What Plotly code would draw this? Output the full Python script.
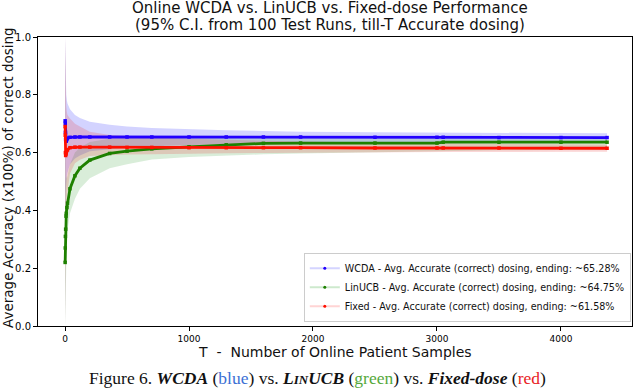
import plotly.graph_objects as go

# ---- data ----
T = [1, 2, 3, 5, 8, 10, 15, 20, 40, 80, 120, 200, 360, 500, 700, 1000, 1300, 1600, 1900,
     2500, 3000, 3050, 3500, 4000, 4372]

wcda_mean = [0.71, 0.70, 0.67, 0.645, 0.64, 0.64, 0.645, 0.65, 0.653, 0.654, 0.654, 0.654, 0.654,
             0.654, 0.654, 0.654, 0.654, 0.654, 0.654, 0.653, 0.653, 0.653, 0.652, 0.652, 0.652]
linucb_mean = [0.22, 0.27, 0.31, 0.335, 0.38, 0.39, 0.41, 0.425, 0.475, 0.52, 0.546, 0.574, 0.597,
               0.605, 0.613, 0.62, 0.627, 0.632, 0.633, 0.633, 0.633, 0.636, 0.636, 0.636, 0.636]
fixed_mean = [0.69, 0.66, 0.60, 0.59, 0.595, 0.60, 0.607, 0.61, 0.617, 0.619, 0.619, 0.619, 0.619,
              0.618, 0.618, 0.617, 0.617, 0.617, 0.617, 0.616, 0.616, 0.616, 0.616, 0.615, 0.615]

T_band = [0] + T
wcda_hi = [1.0, 1.0, 0.95, 0.90, 0.85, 0.82, 0.80, 0.78, 0.77, 0.75, 0.73, 0.72, 0.707, 0.696,
           0.69, 0.685, 0.68, 0.677, 0.675, 0.672, 0.67, 0.669, 0.669, 0.668, 0.667, 0.667]
wcda_lo = [0.0, 0.30, 0.35, 0.40, 0.45, 0.48, 0.50, 0.52, 0.53, 0.56, 0.58, 0.59, 0.605, 0.612,
           0.618, 0.622, 0.627, 0.63, 0.632, 0.634, 0.636, 0.637, 0.637, 0.637, 0.638, 0.638]
linucb_hi = [1.0, 0.60, 0.55, 0.52, 0.50, 0.52, 0.51, 0.51, 0.52, 0.56, 0.60, 0.617, 0.637, 0.648,
             0.65, 0.65, 0.652, 0.655, 0.657, 0.656, 0.655, 0.655, 0.658, 0.658, 0.657, 0.656]
linucb_lo = [0.0, 0.0, 0.05, 0.10, 0.17, 0.24, 0.27, 0.31, 0.33, 0.39, 0.44, 0.475, 0.511, 0.546,
             0.56, 0.576, 0.585, 0.59, 0.594, 0.597, 0.601, 0.605, 0.607, 0.608, 0.609, 0.61]
fixed_hi = [1.0, 1.0, 0.93, 0.88, 0.83, 0.78, 0.76, 0.74, 0.73, 0.718, 0.70, 0.69, 0.672, 0.661,
            0.657, 0.653, 0.648, 0.644, 0.641, 0.638, 0.635, 0.632, 0.632, 0.63, 0.629, 0.628]
fixed_lo = [0.0, 0.10, 0.20, 0.28, 0.35, 0.40, 0.42, 0.45, 0.47, 0.528, 0.563, 0.575, 0.588, 0.592,
            0.593, 0.594, 0.597, 0.598, 0.599, 0.60, 0.601, 0.602, 0.602, 0.602, 0.603, 0.603]

legend_labels = ["WCDA - Avg. Accurate (correct) dosing, ending: ~65.28%",
                 "LinUCB - Avg. Accurate (correct) dosing, ending: ~64.75%",
                 "Fixed - Avg. Accurate (correct) dosing, ending: ~61.58%"]

x_ticks = [0, 1000, 2000, 3000, 4000]
y_ticks = [0.0, 0.2, 0.4, 0.6, 0.8, 1.0]

series = [
    (wcda_mean, wcda_hi, wcda_lo, "#2200ff", "rgba(20,20,255,0.19)", "rgba(160,160,255,0.45)"),
    (linucb_mean, linucb_hi, linucb_lo, "#1e8000", "rgba(30,150,30,0.17)", "rgba(130,200,130,0.4)"),
    (fixed_mean, fixed_hi, fixed_lo, "#ff1000", "rgba(230,60,60,0.21)", "rgba(255,160,160,0.45)"),
]

L, R, TOP, BOT = 38, 632, 37, 326

fig = go.Figure()

for mean, hi, lo, col, band, leg in series:
    fig.add_trace(go.Scatter(x=T_band, y=hi, mode="lines", line=dict(width=0),
                             hoverinfo="skip", showlegend=False))
    fig.add_trace(go.Scatter(x=T_band, y=lo, mode="lines", line=dict(width=0),
                             fill="tonexty", fillcolor=band, hoverinfo="skip", showlegend=False))

for mean, hi, lo, col, band, leg in series:
    fig.add_trace(go.Scatter(x=T, y=mean, mode="lines+markers", line=dict(color=col, width=2.8),
                             marker=dict(color=col, size=3.5, symbol="square"), showlegend=False))

for (mean, hi, lo, col, band, leg), lab in zip(series, legend_labels):
    fig.add_trace(go.Scatter(x=[None], y=[None], mode="lines+markers", name=lab,
                             line=dict(color=leg, width=2), marker=dict(color=col, size=3)))

fig.update_layout(
    width=634, height=392,
    margin=dict(l=L, r=634 - R, t=TOP, b=392 - BOT, autoexpand=False),
    paper_bgcolor="white", plot_bgcolor="white",
    font=dict(family="DejaVu Sans", color="black", size=10),
    showlegend=True,
    legend=dict(x=0.998, y=0.015, xanchor="right", yanchor="bottom", traceorder="normal",
                bgcolor="rgba(255,255,255,0.85)", bordercolor="#cccccc", borderwidth=1,
                font=dict(size=9.6, family="DejaVu Sans", color="#111"), tracegroupgap=0, itemwidth=30),
    xaxis=dict(range=[-218, 4573], tickvals=x_ticks, showgrid=False, zeroline=False, automargin=False,
               showline=True, linecolor="black", linewidth=1, mirror=True,
               ticks="outside", ticklen=4, tickcolor="black", tickfont=dict(size=9)),
    yaxis=dict(range=[0, 1], tickvals=y_ticks, tickformat=".1f", showgrid=False, zeroline=False,
               automargin=False,
               showline=True, linecolor="black", linewidth=1, mirror=True,
               ticks="outside", ticklen=4, tickcolor="black", tickfont=dict(size=10)),
)


def px_ann(text, xpx, ypx, size, family="DejaVu Sans", angle=0, color="#111"):
    fig.add_annotation(text=text, x=(xpx - L) / (R - L), y=(BOT - ypx) / (BOT - TOP),
                       xref="paper", yref="paper", showarrow=False, textangle=angle,
                       xanchor="center", yanchor="middle",
                       font=dict(size=size, family=family, color=color))


px_ann("Online WCDA vs. LinUCB vs. Fixed-dose Performance", 330, 8, 15)
px_ann("(95% C.I. from 100 Test Runs, till-T Accurate dosing)", 330, 25, 15)
px_ann("Average Accuracy (x100%) of correct dosing", 8, 178, 13.5, angle=-90)
px_ann("T  -  Number of Online Patient Samples", 335, 352, 14)
px_ann("Figure 6. <b><i>WCDA</i></b> (<span style='color:#3b6fd4'>blue</span>) vs. "
       "<b><i>L<span style='font-size:13px'>IN</span>UCB</i></b> (<span style='color:#55a83a'>green</span>) vs. "
       "<b><i>Fixed-dose</i></b> (<span style='color:#e8221e'>red</span>)",
       317, 378, 17.5, family="Liberation Serif")

fig.write_html("out.html", config={"displayModeBar": False},
               post_script="document.body.style.margin='0';document.body.style.overflow='hidden';")
